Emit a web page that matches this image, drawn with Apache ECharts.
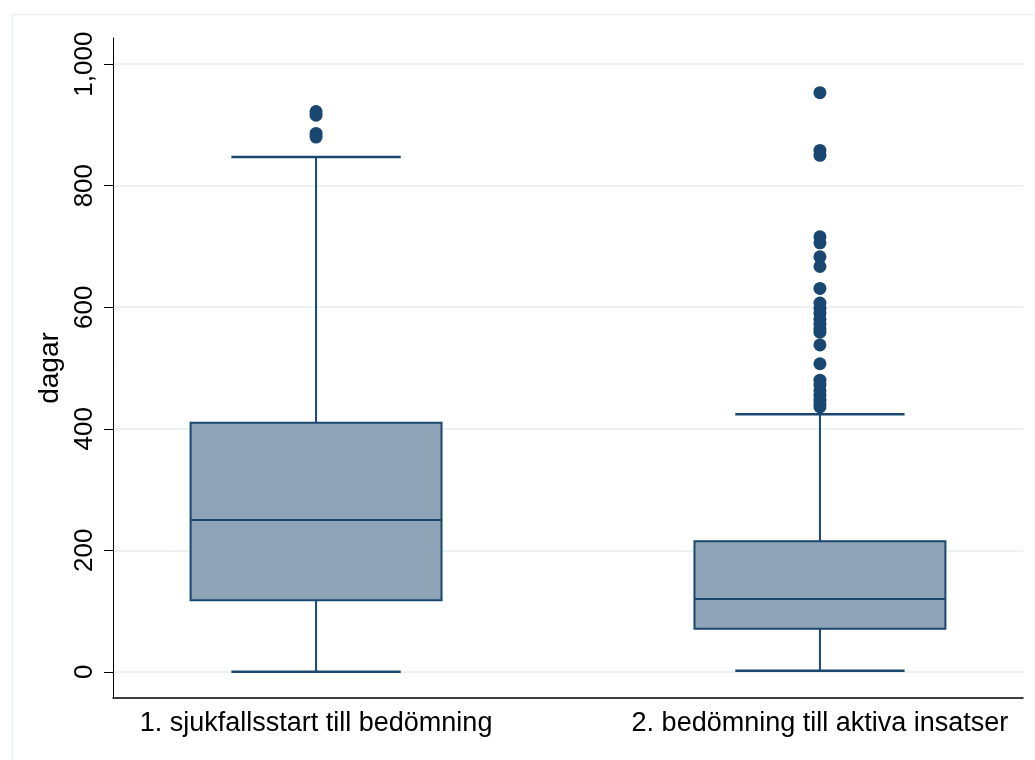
<!DOCTYPE html>
<html>
<head>
<meta charset="utf-8">
<script src="https://cdn.jsdelivr.net/npm/echarts@6/dist/echarts.min.js"></script>
<style>
html,body{margin:0;padding:0;background:#fff;}
#chart{width:1035px;height:760px;}
</style>
</head>
<body>
<div id="chart"></div>
<script>
// Categories and box statistics (days)
const categories = ['1. sjukfallsstart till bedömning', '2. bedömning till aktiva insatser'];
const lowerWhisker = [0, 2];
const q1 = [118, 71];
const median = [250, 120];
const q3 = [410, 215];
const upperWhisker = [847, 424];
// Outliers per category
const outliers1 = [916, 922, 880, 886];
const outliers2 = [953, 850, 858, 716, 706, 683, 667, 631, 607, 598, 590, 580, 572, 565, 559, 538, 507, 480, 472, 463, 455, 447, 440, 436];
const yTicks = [0, 200, 400, 600, 800, 1000];
const yAxisName = 'dagar';

const NAVY = '#1a476f';
const FILL = '#90a4b8';
const BOX_HALF = 0.249;
const CAP_HALF = 0.168;

const boxData = categories.map((c, i) => [i + 1, lowerWhisker[i], q1[i], median[i], q3[i], upperWhisker[i]]);
const outlierData = [];
outliers1.forEach(v => outlierData.push([1, v]));
outliers2.forEach(v => outlierData.push([2, v]));

const chart = echarts.init(document.getElementById('chart'));
const font = 'Liberation Sans, Arial, sans-serif';

function renderBox(params, api) {
  const x = api.value(0);
  const lo = api.value(1), a = api.value(2), m = api.value(3), b = api.value(4), hi = api.value(5);
  const tl = api.coord([x - BOX_HALF, b]);
  const br = api.coord([x + BOX_HALF, a]);
  const ml = api.coord([x - BOX_HALF, m]);
  const mr = api.coord([x + BOX_HALF, m]);
  const top = api.coord([x, hi]);
  const bot = api.coord([x, lo]);
  const qTop = api.coord([x, b]);
  const qBot = api.coord([x, a]);
  const capTL = api.coord([x - CAP_HALF, hi]);
  const capTR = api.coord([x + CAP_HALF, hi]);
  const capBL = api.coord([x - CAP_HALF, lo]);
  const capBR = api.coord([x + CAP_HALF, lo]);
  const ls = {stroke: NAVY, lineWidth: 2};
  return {
    type: 'group',
    children: [
      {type: 'line', shape: {x1: top[0], y1: top[1], x2: qTop[0], y2: qTop[1]}, style: ls},
      {type: 'line', shape: {x1: bot[0], y1: bot[1], x2: qBot[0], y2: qBot[1]}, style: ls},
      {type: 'line', shape: {x1: capTL[0], y1: capTL[1], x2: capTR[0], y2: capTR[1]}, style: {stroke: NAVY, lineWidth: 2.5}},
      {type: 'line', shape: {x1: capBL[0], y1: capBL[1], x2: capBR[0], y2: capBR[1]}, style: {stroke: NAVY, lineWidth: 2.5}},
      {type: 'rect', shape: {x: tl[0], y: tl[1], width: br[0] - tl[0], height: br[1] - tl[1]}, style: {fill: FILL, stroke: NAVY, lineWidth: 2}},
      {type: 'line', shape: {x1: ml[0], y1: ml[1], x2: mr[0], y2: mr[1]}, style: ls}
    ]
  };
}

chart.setOption({
  backgroundColor: '#ffffff',
  animation: false,
  graphic: [{
    type: 'rect', left: 10, top: 12, shape: {width: 1040, height: 760},
    style: {fill: 'none', stroke: '#e6eef1', lineWidth: 1.5}, silent: true, z: -10
  }],
  grid: {left: 113, right: 12, top: 38, bottom: 62},
  xAxis: {
    type: 'value', min: 0.597, max: 2.403,
    axisLine: {show: true, onZero: false, lineStyle: {color: '#000', width: 1.5}},
    axisTick: {show: false},
    splitLine: {show: false},
    axisLabel: {
      customValues: [1, 2],
      formatter: v => categories[Math.round(v) - 1] || '',
      color: '#000', fontSize: 27, fontFamily: font, margin: 12
    }
  },
  yAxis: {
    type: 'value', min: -43, max: 1043,
    name: yAxisName, nameLocation: 'middle', nameRotate: 90, nameGap: 30,
    nameTextStyle: {color: '#000', fontSize: 28, fontFamily: font},
    axisLine: {show: true, onZero: false, lineStyle: {color: '#000', width: 1}},
    axisTick: {show: true, customValues: yTicks, length: 9, lineStyle: {color: '#000', width: 1}},
    axisLabel: {
      customValues: yTicks, rotate: 90, margin: 15,
      formatter: v => v.toLocaleString('en-US'),
      color: '#000', fontSize: 26, fontFamily: font
    },
    splitLine: {show: true, lineStyle: {color: '#eaf2f3', width: 2}}
  },
  series: [
    {
      type: 'custom', renderItem: renderBox, data: boxData,
      encode: {x: 0, y: [1, 2, 3, 4, 5]}, z: 2
    },
    {
      type: 'scatter', data: outlierData, symbol: 'circle', symbolSize: 13,
      itemStyle: {color: NAVY, opacity: 1}, z: 3
    }
  ]
});
</script>
</body>
</html>
